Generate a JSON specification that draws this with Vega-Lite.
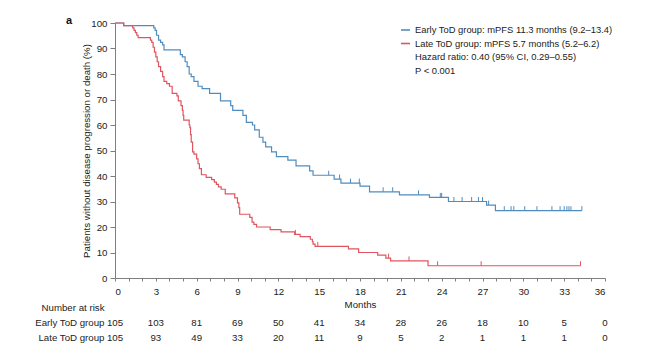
{
  "$schema": "https://vega.github.io/schema/vega-lite/v6.json",
  "padding": {"left": 34, "top": 15, "right": 10, "bottom": 10},
  "background": "white",
  "bounds": "flush",
  "spacing": 22,
  "config": {
    "font": "Liberation Sans",
    "view": {"stroke": null},
    "axis": {"labelFont": "Liberation Sans", "titleFont": "Liberation Sans", "labelColor": "#222222", "titleColor": "#222222", "labelFontSize": 9.7, "titleFontSize": 9.7, "titleFontWeight": "normal", "domainColor": "#7f7f7f", "tickColor": "#7f7f7f", "grid": false},
    "legend": {"labelFont": "Liberation Sans", "labelColor": "#222222", "labelFontSize": 9.4, "labelLimit": 400}
  },
  "datasets": {
    "km": [
      {"group": "Early ToD group", "month": 0, "pct": 100},
      {"group": "Early ToD group", "month": 0.64, "pct": 99.0},
      {"group": "Early ToD group", "month": 2.85, "pct": 98.1},
      {"group": "Early ToD group", "month": 2.95, "pct": 97.1},
      {"group": "Early ToD group", "month": 3.05, "pct": 95.2},
      {"group": "Early ToD group", "month": 3.2, "pct": 93.3},
      {"group": "Early ToD group", "month": 3.35, "pct": 92.4},
      {"group": "Early ToD group", "month": 3.5, "pct": 91.4},
      {"group": "Early ToD group", "month": 3.6, "pct": 89.5},
      {"group": "Early ToD group", "month": 4.8, "pct": 87.6},
      {"group": "Early ToD group", "month": 4.95, "pct": 86.7},
      {"group": "Early ToD group", "month": 5.15, "pct": 84.8},
      {"group": "Early ToD group", "month": 5.3, "pct": 82.9},
      {"group": "Early ToD group", "month": 5.45, "pct": 80.0},
      {"group": "Early ToD group", "month": 5.6, "pct": 79.0},
      {"group": "Early ToD group", "month": 5.8, "pct": 77.1},
      {"group": "Early ToD group", "month": 6.1, "pct": 75.2},
      {"group": "Early ToD group", "month": 6.4, "pct": 74.3},
      {"group": "Early ToD group", "month": 6.95, "pct": 72.4},
      {"group": "Early ToD group", "month": 7.75, "pct": 69.5},
      {"group": "Early ToD group", "month": 8.5, "pct": 67.6},
      {"group": "Early ToD group", "month": 8.65, "pct": 65.7},
      {"group": "Early ToD group", "month": 9.4, "pct": 63.8},
      {"group": "Early ToD group", "month": 9.65, "pct": 61.0},
      {"group": "Early ToD group", "month": 10.1, "pct": 60.0},
      {"group": "Early ToD group", "month": 10.26, "pct": 58.1},
      {"group": "Early ToD group", "month": 10.6, "pct": 55.2},
      {"group": "Early ToD group", "month": 10.87, "pct": 53.3},
      {"group": "Early ToD group", "month": 11.07, "pct": 51.4},
      {"group": "Early ToD group", "month": 11.5, "pct": 49.5},
      {"group": "Early ToD group", "month": 11.86, "pct": 47.6},
      {"group": "Early ToD group", "month": 12.7, "pct": 46.2},
      {"group": "Early ToD group", "month": 13.3, "pct": 44.0},
      {"group": "Early ToD group", "month": 14.3, "pct": 42.0},
      {"group": "Early ToD group", "month": 14.55, "pct": 40.3},
      {"group": "Early ToD group", "month": 16.1, "pct": 38.8},
      {"group": "Early ToD group", "month": 16.6, "pct": 37.2},
      {"group": "Early ToD group", "month": 18.0, "pct": 36.0},
      {"group": "Early ToD group", "month": 18.7, "pct": 33.8},
      {"group": "Early ToD group", "month": 20.9, "pct": 32.6},
      {"group": "Early ToD group", "month": 23.1, "pct": 31.6},
      {"group": "Early ToD group", "month": 24.5, "pct": 30.0},
      {"group": "Early ToD group", "month": 27.3, "pct": 28.6},
      {"group": "Early ToD group", "month": 27.95, "pct": 26.4},
      {"group": "Early ToD group", "month": 34.3, "pct": 26.4},
      {"group": "Late ToD group", "month": 0, "pct": 100},
      {"group": "Late ToD group", "month": 0.64, "pct": 99.0},
      {"group": "Late ToD group", "month": 1.3, "pct": 98.1},
      {"group": "Late ToD group", "month": 1.4, "pct": 97.1},
      {"group": "Late ToD group", "month": 1.5, "pct": 96.2},
      {"group": "Late ToD group", "month": 1.6, "pct": 95.2},
      {"group": "Late ToD group", "month": 1.7, "pct": 94.3},
      {"group": "Late ToD group", "month": 2.6, "pct": 93.3},
      {"group": "Late ToD group", "month": 2.7, "pct": 92.4},
      {"group": "Late ToD group", "month": 2.8, "pct": 90.5},
      {"group": "Late ToD group", "month": 2.9, "pct": 88.6},
      {"group": "Late ToD group", "month": 3.0, "pct": 86.7},
      {"group": "Late ToD group", "month": 3.1, "pct": 84.8},
      {"group": "Late ToD group", "month": 3.2, "pct": 82.9},
      {"group": "Late ToD group", "month": 3.35, "pct": 81.0},
      {"group": "Late ToD group", "month": 3.5, "pct": 79.0},
      {"group": "Late ToD group", "month": 3.6, "pct": 77.1},
      {"group": "Late ToD group", "month": 3.8, "pct": 76.2},
      {"group": "Late ToD group", "month": 4.0, "pct": 75.2},
      {"group": "Late ToD group", "month": 4.2, "pct": 72.4},
      {"group": "Late ToD group", "month": 4.55, "pct": 71.4},
      {"group": "Late ToD group", "month": 4.65, "pct": 69.5},
      {"group": "Late ToD group", "month": 4.85, "pct": 67.6},
      {"group": "Late ToD group", "month": 4.95, "pct": 65.7},
      {"group": "Late ToD group", "month": 5.0, "pct": 63.8},
      {"group": "Late ToD group", "month": 5.05, "pct": 61.9},
      {"group": "Late ToD group", "month": 5.45, "pct": 60.0},
      {"group": "Late ToD group", "month": 5.5, "pct": 59.0},
      {"group": "Late ToD group", "month": 5.55, "pct": 56.2},
      {"group": "Late ToD group", "month": 5.6, "pct": 53.3},
      {"group": "Late ToD group", "month": 5.7, "pct": 49.5},
      {"group": "Late ToD group", "month": 5.8, "pct": 48.6},
      {"group": "Late ToD group", "month": 6.0, "pct": 46.7},
      {"group": "Late ToD group", "month": 6.1, "pct": 44.8},
      {"group": "Late ToD group", "month": 6.2, "pct": 42.9},
      {"group": "Late ToD group", "month": 6.35, "pct": 40.5},
      {"group": "Late ToD group", "month": 6.7, "pct": 39.5},
      {"group": "Late ToD group", "month": 7.1, "pct": 38.6},
      {"group": "Late ToD group", "month": 7.3, "pct": 37.6},
      {"group": "Late ToD group", "month": 7.45, "pct": 36.7},
      {"group": "Late ToD group", "month": 7.6, "pct": 35.7},
      {"group": "Late ToD group", "month": 7.8, "pct": 34.8},
      {"group": "Late ToD group", "month": 8.1, "pct": 33.0},
      {"group": "Late ToD group", "month": 8.8, "pct": 31.4},
      {"group": "Late ToD group", "month": 9.0, "pct": 29.5},
      {"group": "Late ToD group", "month": 9.1, "pct": 27.6},
      {"group": "Late ToD group", "month": 9.16, "pct": 25.0},
      {"group": "Late ToD group", "month": 9.9, "pct": 23.8},
      {"group": "Late ToD group", "month": 10.07, "pct": 21.9},
      {"group": "Late ToD group", "month": 10.2, "pct": 21.0},
      {"group": "Late ToD group", "month": 10.4, "pct": 20.0},
      {"group": "Late ToD group", "month": 11.4, "pct": 19.0},
      {"group": "Late ToD group", "month": 12.2, "pct": 18.1},
      {"group": "Late ToD group", "month": 13.2, "pct": 17.1},
      {"group": "Late ToD group", "month": 13.6, "pct": 16.2},
      {"group": "Late ToD group", "month": 14.35, "pct": 15.2},
      {"group": "Late ToD group", "month": 14.5, "pct": 14.3},
      {"group": "Late ToD group", "month": 14.55, "pct": 13.3},
      {"group": "Late ToD group", "month": 14.7, "pct": 12.4},
      {"group": "Late ToD group", "month": 17.15, "pct": 11.4},
      {"group": "Late ToD group", "month": 17.9, "pct": 10.0},
      {"group": "Late ToD group", "month": 19.3, "pct": 9.0},
      {"group": "Late ToD group", "month": 19.9, "pct": 7.8},
      {"group": "Late ToD group", "month": 20.25, "pct": 6.7},
      {"group": "Late ToD group", "month": 23.0, "pct": 4.8},
      {"group": "Late ToD group", "month": 34.2, "pct": 4.8}
    ],
    "censor": [
      {"group": "Early ToD group", "month": 15.7, "pct": 40.3},
      {"group": "Early ToD group", "month": 16.5, "pct": 38.8},
      {"group": "Early ToD group", "month": 17.3, "pct": 37.2},
      {"group": "Early ToD group", "month": 17.95, "pct": 37.2},
      {"group": "Early ToD group", "month": 19.7, "pct": 33.8},
      {"group": "Early ToD group", "month": 20.4, "pct": 33.8},
      {"group": "Early ToD group", "month": 22.3, "pct": 32.6},
      {"group": "Early ToD group", "month": 23.9, "pct": 31.6},
      {"group": "Early ToD group", "month": 24.0, "pct": 31.6},
      {"group": "Early ToD group", "month": 24.9, "pct": 30.0},
      {"group": "Early ToD group", "month": 25.5, "pct": 30.0},
      {"group": "Early ToD group", "month": 26.2, "pct": 30.0},
      {"group": "Early ToD group", "month": 26.7, "pct": 30.0},
      {"group": "Early ToD group", "month": 27.0, "pct": 30.0},
      {"group": "Early ToD group", "month": 27.45, "pct": 28.6},
      {"group": "Early ToD group", "month": 28.6, "pct": 26.4},
      {"group": "Early ToD group", "month": 29.1, "pct": 26.4},
      {"group": "Early ToD group", "month": 29.3, "pct": 26.4},
      {"group": "Early ToD group", "month": 30.1, "pct": 26.4},
      {"group": "Early ToD group", "month": 31.0, "pct": 26.4},
      {"group": "Early ToD group", "month": 32.1, "pct": 26.4},
      {"group": "Early ToD group", "month": 32.7, "pct": 26.4},
      {"group": "Early ToD group", "month": 33.0, "pct": 26.4},
      {"group": "Early ToD group", "month": 33.2, "pct": 26.4},
      {"group": "Early ToD group", "month": 33.35, "pct": 26.4},
      {"group": "Early ToD group", "month": 33.5, "pct": 26.4},
      {"group": "Early ToD group", "month": 34.3, "pct": 26.4},
      {"group": "Late ToD group", "month": 13.25, "pct": 17.1},
      {"group": "Late ToD group", "month": 14.9, "pct": 12.4},
      {"group": "Late ToD group", "month": 20.1, "pct": 7.8},
      {"group": "Late ToD group", "month": 21.6, "pct": 6.7},
      {"group": "Late ToD group", "month": 23.7, "pct": 4.8},
      {"group": "Late ToD group", "month": 26.9, "pct": 4.8},
      {"group": "Late ToD group", "month": 34.2, "pct": 4.8}
    ],
    "risk": [
      {"group": "Early ToD group", "month": 0, "n": 105},
      {"group": "Early ToD group", "month": 3, "n": 103},
      {"group": "Early ToD group", "month": 6, "n": 81},
      {"group": "Early ToD group", "month": 9, "n": 69},
      {"group": "Early ToD group", "month": 12, "n": 50},
      {"group": "Early ToD group", "month": 15, "n": 41},
      {"group": "Early ToD group", "month": 18, "n": 34},
      {"group": "Early ToD group", "month": 21, "n": 28},
      {"group": "Early ToD group", "month": 24, "n": 26},
      {"group": "Early ToD group", "month": 27, "n": 18},
      {"group": "Early ToD group", "month": 30, "n": 10},
      {"group": "Early ToD group", "month": 33, "n": 5},
      {"group": "Early ToD group", "month": 36, "n": 0},
      {"group": "Late ToD group", "month": 0, "n": 105},
      {"group": "Late ToD group", "month": 3, "n": 93},
      {"group": "Late ToD group", "month": 6, "n": 49},
      {"group": "Late ToD group", "month": 9, "n": 33},
      {"group": "Late ToD group", "month": 12, "n": 20},
      {"group": "Late ToD group", "month": 15, "n": 11},
      {"group": "Late ToD group", "month": 18, "n": 9},
      {"group": "Late ToD group", "month": 21, "n": 5},
      {"group": "Late ToD group", "month": 24, "n": 2},
      {"group": "Late ToD group", "month": 27, "n": 1},
      {"group": "Late ToD group", "month": 30, "n": 1},
      {"group": "Late ToD group", "month": 33, "n": 1},
      {"group": "Late ToD group", "month": 36, "n": 0}
    ]
  },
  "vconcat": [
    {
      "width": 490,
      "height": 255,
      "title": {"text": "a", "anchor": "start", "frame": "group", "dx": -49, "dy": 8, "offset": 0, "fontSize": 11, "fontWeight": "bold", "color": "#111111", "font": "Liberation Sans"},
      "encoding": {
        "x": {"field": "month", "type": "quantitative", "scale": {"domain": [0, 36], "nice": false},
          "axis": {"title": "Months", "values": [0,1,2,3,4,5,6,7,8,9,10,11,12,13,14,15,16,17,18,19,20,21,22,23,24,25,26,27,28,29,30,31,32,33,34,35,36],
            "labelExpr": "datum.value % 3 == 0 ? datum.label : ''", "labelOverlap": false, "labelBound": false, "tickSize": 3, "labelPadding": 5, "titlePadding": 4}},
        "y": {"field": "pct", "type": "quantitative", "scale": {"domain": [0, 100], "nice": false},
          "axis": {"title": "Patients without disease progression or death (%)", "values": [0,10,20,30,40,50,60,70,80,90,100], "labelOverlap": false, "tickSize": 5, "labelPadding": 3, "titlePadding": -1}},
        "color": {"field": "group", "type": "nominal",
          "scale": {"domain": ["Early ToD group", "Late ToD group", "Hazard ratio: 0.40 (95% CI, 0.29–0.55)", "P < 0.001"], "range": ["#4f8dc0", "#e0555f", "transparent", "transparent"]},
          "legend": {"title": null, "orient": "none", "legendX": 285, "legendY": 1.5, "symbolType": "stroke", "symbolSize": 81, "symbolStrokeWidth": 1.6, "labelOffset": 4, "rowPadding": 3.5, "padding": 0, "labelLimit": 400,
            "labelExpr": "datum.label == 'Early ToD group' ? 'Early ToD group: mPFS 11.3 months (9.2–13.4)' : datum.label == 'Late ToD group' ? 'Late ToD group: mPFS 5.7 months (5.2–6.2)' : datum.label"}}
      },
      "layer": [
        {
          "data": {"name": "km"},
          "mark": {"type": "line", "interpolate": "step-after", "strokeWidth": 1.2}
        },
        {
          "data": {"name": "censor"},
          "mark": {"type": "point", "shape": "M0,0L0,-1", "size": 81, "filled": false, "strokeWidth": 1, "opacity": 1}
        }
      ]
    },
    {
      "width": 490,
      "height": 45,
      "data": {"name": "risk"},
      "mark": {"type": "text", "fontSize": 9.7, "color": "#222222", "font": "Liberation Sans"},
      "encoding": {
        "x": {"field": "month", "type": "quantitative", "scale": {"domain": [0, 36], "nice": false}, "axis": null},
        "y": {"field": "group", "type": "nominal", "scale": {"type": "point", "domain": ["Number at risk", "Early ToD group", "Late ToD group"], "padding": 0.5},
          "axis": {"title": null, "domain": false, "ticks": false, "labelPadding": 11, "labelFontSize": 9.7}},
        "text": {"field": "n", "type": "quantitative"}
      }
    }
  ]
}
